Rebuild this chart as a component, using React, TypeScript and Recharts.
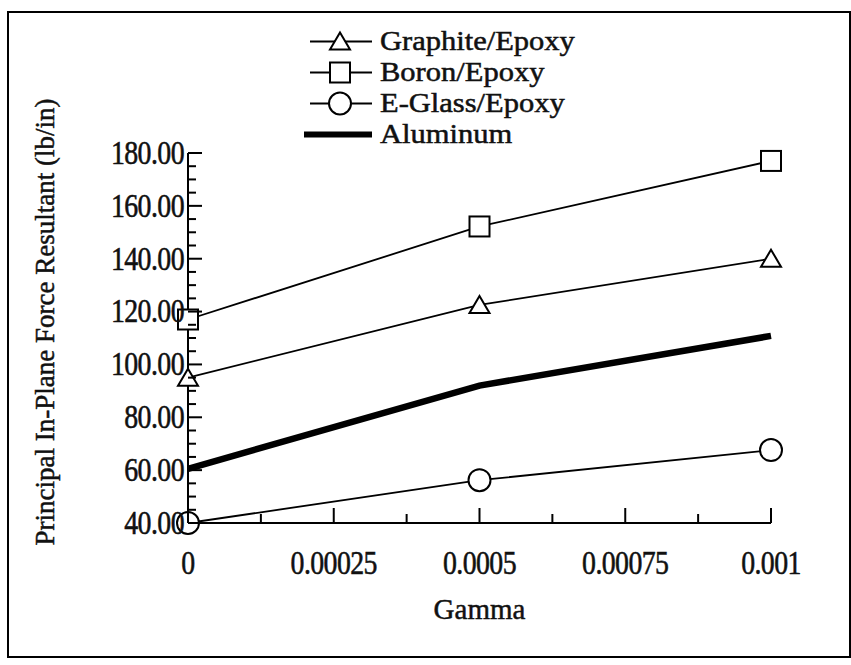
import { LineChart, Line, XAxis, YAxis, Label } from 'recharts'

const FONT = '"Liberation Serif", "DejaVu Serif", serif'

// shear strain values on the x axis
const gamma = [0, 0.0005, 0.001]

// principal in-plane force resultant, lb/in
const graphiteEpoxy = [95, 122.5, 140]
const boronEpoxy = [117, 152.2, 177]
const eGlassEpoxy = [40, 56.2, 67.6]
const aluminum = [60.5, 92, 110.8]

const yMajor = [40, 60, 80, 100, 120, 140, 160, 180]
const yMinor = [45, 50, 55, 65, 70, 75, 85, 90, 95, 105, 110, 115, 125, 130, 135, 145, 150, 155, 165, 170, 175]
const xMajor = [0, 0.00025, 0.0005, 0.00075, 0.001]
const xLabels = ['0', '0.00025', '0.0005', '0.00075', '0.001']
const xMinor = [0.000125, 0.000375, 0.000625, 0.000875]

const data = gamma.map((g, i) => ({
  gamma: g,
  graphite: graphiteEpoxy[i],
  boron: boronEpoxy[i],
  eglass: eGlassEpoxy[i],
  aluminum: aluminum[i],
}))

const yTicks = [...yMajor, ...yMinor].sort((a, b) => a - b)
const xTicks = [...xMajor, ...xMinor].sort((a, b) => a - b)

// slightly heavy serif text, like a photocopied Times
const textStyle = { fontFamily: FONT, fill: '#111', stroke: '#111', strokeWidth: 0.5 }

// tall, narrow tick numerals
function TickText({ x, y, anchor, children }: any) {
  return (
    <g transform={`translate(${x},${y}) scale(0.96,1.14)`}>
      <text x={0} y={0} textAnchor={anchor} dominantBaseline="central" fontSize={29}
        letterSpacing={-0.6} style={textStyle}>
        {children}
      </text>
    </g>
  )
}

function YTick(props: any) {
  const { x, y, payload } = props
  const major = yMajor.includes(payload.value)
  return (
    <g>
      <line x1={x} x2={x + (major ? 14 : 8)} y1={y} y2={y} stroke="#000" strokeWidth={2} />
      {major && <TickText x={x - 4} y={y} anchor="end">{payload.value.toFixed(2)}</TickText>}
    </g>
  )
}

function XTick(props: any) {
  const { x, y, payload } = props
  const idx = xMajor.indexOf(payload.value)
  return (
    <g>
      <line x1={x} x2={x} y1={y} y2={y - (idx >= 0 ? 15 : 9)} stroke="#000" strokeWidth={2} />
      {idx >= 0 && <TickText x={x} y={y + 40} anchor="middle">{xLabels[idx]}</TickText>}
    </g>
  )
}

// open markers, white-filled so the line doesn't show through
const Triangle = ({ cx, cy }: any) => (
  <path key={`t${cx}`} d={`M${cx},${cy - 9} L${cx + 10},${cy + 8} L${cx - 10},${cy + 8} Z`}
    fill="#fff" stroke="#000" strokeWidth={2} />
)
const Square = ({ cx, cy }: any) => (
  <rect key={`s${cx}`} x={cx - 10} y={cy - 10} width={20} height={20}
    fill="#fff" stroke="#000" strokeWidth={2} />
)
const Circle = ({ cx, cy }: any) => (
  <circle key={`c${cx}`} cx={cx} cy={cy} r={11} fill="#fff" stroke="#000" strokeWidth={2} />
)

function LegendRow({ label, marker, thick }: { label: string; marker?: string; thick?: boolean }) {
  return (
    <div style={{ display: 'flex', alignItems: 'center', height: 31 }}>
      <svg width={72} height={31}>
        <line x1={thick ? 0 : 6} x2={68} y1={15.5} y2={15.5} stroke="#000" strokeWidth={thick ? 6 : 1.8} />
        {marker === 'triangle' && <Triangle cx={36} cy={15.5} />}
        {marker === 'square' && <Square cx={36} cy={15.5} />}
        {marker === 'circle' && <Circle cx={36} cy={15.5} />}
      </svg>
      <span style={{
        display: 'inline-block', fontFamily: FONT, fontSize: 27, lineHeight: '31px', color: '#111',
        marginLeft: 4, WebkitTextStroke: '0.5px #111',
        transform: 'scaleX(1.13)', transformOrigin: 'left center',
      }}>{label}</span>
    </div>
  )
}

export default function App() {
  return (
    <div style={{ position: 'absolute', left: 0, top: 0, width: 851, height: 665, background: '#fff' }}>
      <div style={{
        position: 'absolute', left: 7, top: 11, width: 840, height: 643,
        border: '2px solid #000',
      }} />
      <LineChart
        width={851}
        height={665}
        data={data}
        margin={{ top: 153, right: 80, bottom: 82, left: 88 }}
      >
        <XAxis
          dataKey="gamma"
          type="number"
          domain={[0, 0.001]}
          ticks={xTicks}
          interval={0}
          height={60}
          tickSize={0}
          tickMargin={0}
          tickLine={false}
          axisLine={{ stroke: '#000', strokeWidth: 2 }}
          tick={<XTick />}
        >
          <Label
            content={({ viewBox }: any) => (
              <text x={viewBox.x + viewBox.width / 2} y={viewBox.y + 86} textAnchor="middle"
                dominantBaseline="central" fontSize={29} style={textStyle}>
                Gamma
              </text>
            )}
          />
        </XAxis>
        <YAxis
          type="number"
          domain={[40, 180]}
          ticks={yTicks}
          interval={0}
          width={100}
          tickSize={0}
          tickMargin={0}
          tickLine={false}
          axisLine={{ stroke: '#000', strokeWidth: 2 }}
          tick={<YTick />}
        >
          <Label
            content={({ viewBox }: any) => {
              const cx = 45
              const cy = viewBox.y + viewBox.height / 2 - 16
              return (
                <text x={cx} y={cy} transform={`rotate(-90 ${cx} ${cy})`} textAnchor="middle"
                  dominantBaseline="central" fontSize={27} style={textStyle}>
                  Principal In-Plane Force Resultant (lb/in)
                </text>
              )
            }}
          />
        </YAxis>
        <Line dataKey="aluminum" type="linear" stroke="#000" strokeWidth={6.5} dot={false} isAnimationActive={false} />
        <Line dataKey="graphite" type="linear" stroke="#000" strokeWidth={1.8} dot={<Triangle />} isAnimationActive={false} />
        <Line dataKey="boron" type="linear" stroke="#000" strokeWidth={1.8} dot={<Square />} isAnimationActive={false} />
        <Line dataKey="eglass" type="linear" stroke="#000" strokeWidth={1.8} dot={<Circle />} isAnimationActive={false} />
      </LineChart>
      <div style={{ position: 'absolute', left: 304, top: 26 }}>
        <LegendRow label="Graphite/Epoxy" marker="triangle" />
        <LegendRow label="Boron/Epoxy" marker="square" />
        <LegendRow label="E-Glass/Epoxy" marker="circle" />
        <LegendRow label="Aluminum" thick />
      </div>
    </div>
  )
}
